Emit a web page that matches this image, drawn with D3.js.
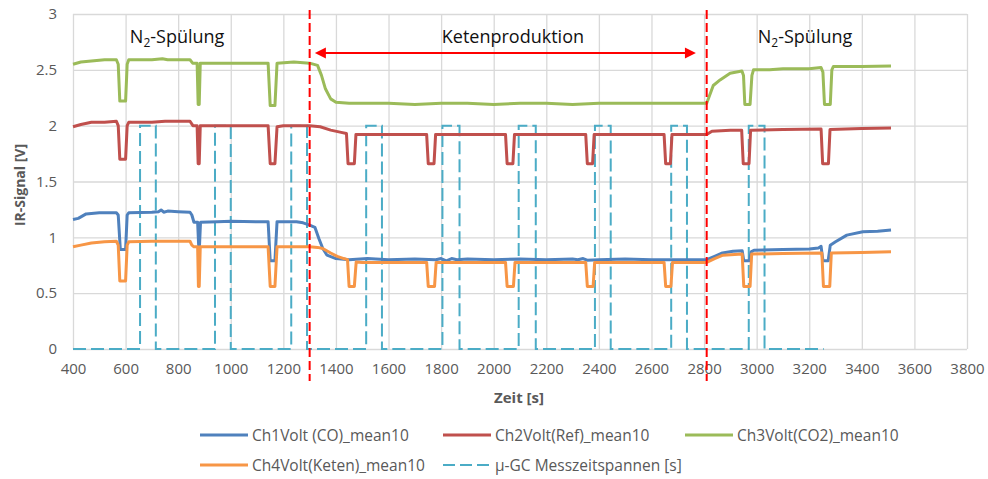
<!DOCTYPE html>
<html>
<head>
<meta charset="utf-8">
<script src="https://cdn.jsdelivr.net/npm/d3@7"></script>
<style>
body{margin:0;background:#fff;}
text{font-family:"Open Sans",sans-serif;}
</style>
</head>
<body>
<div id="chart"></div>
<script>
// time [s], signal [V]
var ch1 = [[400,1.16],[420,1.17],[450,1.21],[500,1.22],[565,1.22],[572,1.2],[580,0.89],[600,0.89],[606,1.2],[612,1.22],[700,1.225],[725,1.23],[735,1.245],[745,1.225],[760,1.235],[800,1.23],[845,1.225],[852,1.20],[860,1.135],[874,1.135],[878,0.92],[881,0.92],[885,1.135],[950,1.14],[1000,1.145],[1100,1.14],[1142,1.14],[1150,0.79],[1168,0.79],[1176,1.14],[1250,1.14],[1275,1.13],[1300,1.11],[1320,1.09],[1335,0.99],[1350,0.90],[1366,0.84],[1400,0.81],[1450,0.80],[1520,0.81],[1600,0.80],[1700,0.805],[1780,0.80],[1800,0.81],[1820,0.79],[1840,0.81],[1860,0.80],[1900,0.805],[2000,0.80],[2100,0.805],[2200,0.80],[2300,0.805],[2320,0.80],[2340,0.81],[2355,0.795],[2400,0.80],[2500,0.805],[2600,0.80],[2700,0.80],[2810,0.80],[2840,0.83],[2870,0.86],[2910,0.875],[2945,0.88],[2951,0.79],[2973,0.79],[2979,0.87],[2990,0.885],[3100,0.89],[3200,0.895],[3235,0.905],[3245,0.92],[3252,0.79],[3272,0.79],[3280,0.93],[3300,0.96],[3343,1.02],[3404,1.05],[3460,1.055],[3511,1.065]];
var ch2 = [[400,1.99],[430,2.01],[470,2.03],[520,2.03],[565,2.04],[572,2.0],[578,1.70],[600,1.70],[606,2.0],[612,2.03],[700,2.03],[750,2.04],[800,2.04],[845,2.04],[856,2.0],[872,2.0],[876,1.66],[880,1.66],[884,2.0],[1000,2.0],[1100,2.0],[1142,2.0],[1150,1.66],[1168,1.66],[1176,1.99],[1200,2.0],[1300,2.0],[1340,1.99],[1380,1.96],[1420,1.94],[1440,1.93],[1446,1.66],[1470,1.66],[1476,1.92],[1600,1.92],[1745,1.92],[1751,1.66],[1773,1.66],[1779,1.92],[2045,1.92],[2051,1.66],[2073,1.66],[2079,1.92],[2350,1.92],[2356,1.66],[2376,1.66],[2382,1.92],[2648,1.92],[2654,1.66],[2672,1.66],[2678,1.92],[2810,1.92],[2830,1.95],[2900,1.96],[2943,1.96],[2949,1.66],[2971,1.66],[2977,1.96],[3100,1.965],[3245,1.97],[3251,1.66],[3273,1.66],[3279,1.965],[3400,1.975],[3511,1.98]];
var ch3 = [[400,2.55],[430,2.57],[470,2.58],[520,2.59],[565,2.59],[572,2.55],[578,2.22],[600,2.22],[606,2.55],[612,2.59],[700,2.59],[740,2.60],[760,2.59],[845,2.59],[855,2.56],[872,2.56],[876,2.19],[880,2.19],[884,2.56],[1000,2.56],[1100,2.56],[1142,2.56],[1150,2.18],[1168,2.18],[1176,2.56],[1240,2.57],[1300,2.56],[1330,2.54],[1345,2.45],[1360,2.33],[1380,2.24],[1400,2.21],[1450,2.20],[1600,2.20],[1700,2.19],[1800,2.20],[1900,2.20],[2000,2.19],[2100,2.20],[2200,2.20],[2300,2.19],[2400,2.20],[2500,2.20],[2600,2.20],[2700,2.20],[2810,2.20],[2835,2.36],[2861,2.41],[2899,2.47],[2944,2.49],[2950,2.45],[2955,2.19],[2975,2.19],[2982,2.45],[2988,2.50],[3050,2.50],[3100,2.51],[3200,2.51],[3245,2.52],[3252,2.48],[3258,2.19],[3280,2.19],[3286,2.50],[3292,2.53],[3400,2.53],[3511,2.535]];
var ch4 = [[400,0.915],[430,0.93],[470,0.95],[520,0.96],[565,0.965],[572,0.93],[578,0.61],[600,0.61],[606,0.93],[612,0.96],[700,0.965],[800,0.965],[845,0.965],[852,0.93],[860,0.915],[874,0.915],[877,0.56],[880,0.56],[884,0.915],[1000,0.915],[1142,0.915],[1150,0.56],[1168,0.56],[1176,0.915],[1300,0.915],[1330,0.91],[1350,0.90],[1380,0.86],[1405,0.83],[1430,0.81],[1444,0.80],[1450,0.56],[1470,0.56],[1477,0.78],[1500,0.775],[1745,0.775],[1751,0.56],[1775,0.56],[1781,0.775],[2045,0.775],[2051,0.56],[2075,0.56],[2081,0.775],[2350,0.775],[2356,0.56],[2378,0.56],[2384,0.775],[2648,0.775],[2654,0.56],[2674,0.56],[2680,0.775],[2810,0.775],[2840,0.81],[2872,0.84],[2945,0.85],[2951,0.56],[2975,0.56],[2981,0.85],[3100,0.855],[3248,0.86],[3254,0.56],[3278,0.56],[3284,0.86],[3400,0.865],[3511,0.87]];

// µ-GC measuring windows [start, end] in s, level 0 / 2
var gcWindows = [[655,715],[940,1000],[1230,1290],[1515,1575],[1805,1870],[2095,2160],[2385,2445],[2675,2735],[2970,3030]];
var gcRange = [400,3255];
var gcHigh = 2;

var phaseBounds = [1300,2810];
var phaseLabels = [{t:796,text:"N",sub:"2",rest:"-Spülung"},{t:2073,text:"Ketenproduktion"},{t:3184,text:"N",sub:"2",rest:"-Spülung"}];
var arrowSpan = [1320,2769];

var xTicks = d3.range(400,3801,200);
var yTicks = [0,0.5,1,1.5,2,2.5,3];

var seriesNames = ["Ch1Volt (CO)_mean10","Ch2Volt(Ref)_mean10","Ch3Volt(CO2)_mean10","Ch4Volt(Keten)_mean10","µ-GC Messzeitspannen [s]"];
var seriesColors = ["#4F81BD","#C0504D","#9BBB59","#F79646","#4BACC6"];

var W = 988, H = 479;
var x = d3.scaleLinear().domain([400,3800]).range([73,967]);
var y = d3.scaleLinear().domain([0,3]).range([349,14]);

var svg = d3.select("#chart").append("svg").attr("width",W).attr("height",H);

// grid + tick labels
var gx = svg.append("g").attr("transform","translate(0,"+y(0)+")")
    .call(d3.axisBottom(x).tickValues(xTicks).tickSize(-(y(0)-y(3))).tickPadding(14).tickFormat(d3.format("d")));
var gy = svg.append("g").attr("transform","translate("+x(400)+",0)")
    .call(d3.axisLeft(y).tickValues(yTicks).tickSize(-(x(3800)-x(400))).tickPadding(16).tickFormat(function(d){return String(d);}));
svg.selectAll(".domain").remove();
svg.selectAll(".tick line").attr("stroke","#D9D9D9").attr("stroke-width",1.3);
svg.selectAll(".tick text").attr("fill","#595959").style("font-size","15px").style("font-family","'Open Sans',sans-serif");

// axis titles
svg.append("text").attr("x",519).attr("y",403).attr("text-anchor","middle")
    .attr("fill","#595959").style("font-size","15px").style("font-weight","bold").text("Zeit [s]");
svg.append("text").attr("transform","translate(25,185) rotate(-90)").attr("text-anchor","middle")
    .attr("fill","#595959").style("font-size","14px").style("font-weight","bold").text("IR-Signal [V]");

// gc step path from windows
var gcPts = [[gcRange[0],0]];
gcWindows.forEach(function(w){
    gcPts.push([w[0],0],[w[0],gcHigh],[w[1],gcHigh],[w[1],0]);
});
gcPts.push([gcRange[1],0]);

var line = d3.line().x(function(d){return x(d[0]);}).y(function(d){return y(d[1]);});

svg.append("path").datum(gcPts).attr("d",line).attr("fill","none")
    .attr("stroke",seriesColors[4]).attr("stroke-width",2).attr("stroke-dasharray","13,5");

[ch1,ch2,ch3,ch4].forEach(function(s,i){
    svg.append("path").datum(s).attr("d",line).attr("fill","none")
        .attr("stroke",seriesColors[i]).attr("stroke-width",3).attr("stroke-linejoin","round");
});

// phase boundaries
svg.selectAll("line.phase").data(phaseBounds).enter().append("line").attr("class","phase")
    .attr("x1",function(d){return x(d);}).attr("x2",function(d){return x(d);})
    .attr("y1",10).attr("y2",381)
    .attr("stroke","#FF0000").attr("stroke-width",2).attr("stroke-dasharray","9,4");

// arrow
var ay = 53;
var ax1 = x(arrowSpan[0]), ax2 = x(arrowSpan[1]);
svg.append("line").attr("x1",ax1+8).attr("x2",ax2-8).attr("y1",ay).attr("y2",ay)
    .attr("stroke","#FF0000").attr("stroke-width",2);
svg.append("path").attr("d","M"+ax1+","+ay+"l11,-5.5v11z").attr("fill","#FF0000");
svg.append("path").attr("d","M"+ax2+","+ay+"l-11,-5.5v11z").attr("fill","#FF0000");

// phase labels
phaseLabels.forEach(function(p){
    var t = svg.append("text").attr("x",x(p.t)).attr("y",43).attr("text-anchor","middle")
        .attr("fill","#111").style("font-size","18px");
    t.append("tspan").text(p.text);
    if(p.sub){
        t.append("tspan").attr("dy",4).style("font-size","12px").text(p.sub);
        t.append("tspan").attr("dy",-4).text(p.rest);
    }
});

// legend
var legendPos = [[200,435],[443,435],[685,435],[200,465],[443,465]];
seriesNames.forEach(function(n,i){
    var lp = legendPos[i];
    var g = svg.append("g").attr("transform","translate("+lp[0]+","+lp[1]+")");
    g.append("line").attr("x1",0).attr("x2",48).attr("y1",0).attr("y2",0)
        .attr("stroke",seriesColors[i]).attr("stroke-width",i==4?2:3)
        .attr("stroke-dasharray",i==4?"12,5":null);
    g.append("text").attr("x",52).attr("y",5.5).attr("fill","#595959")
        .style("font-size","15.5px").text(n);
});
</script>
</body>
</html>
